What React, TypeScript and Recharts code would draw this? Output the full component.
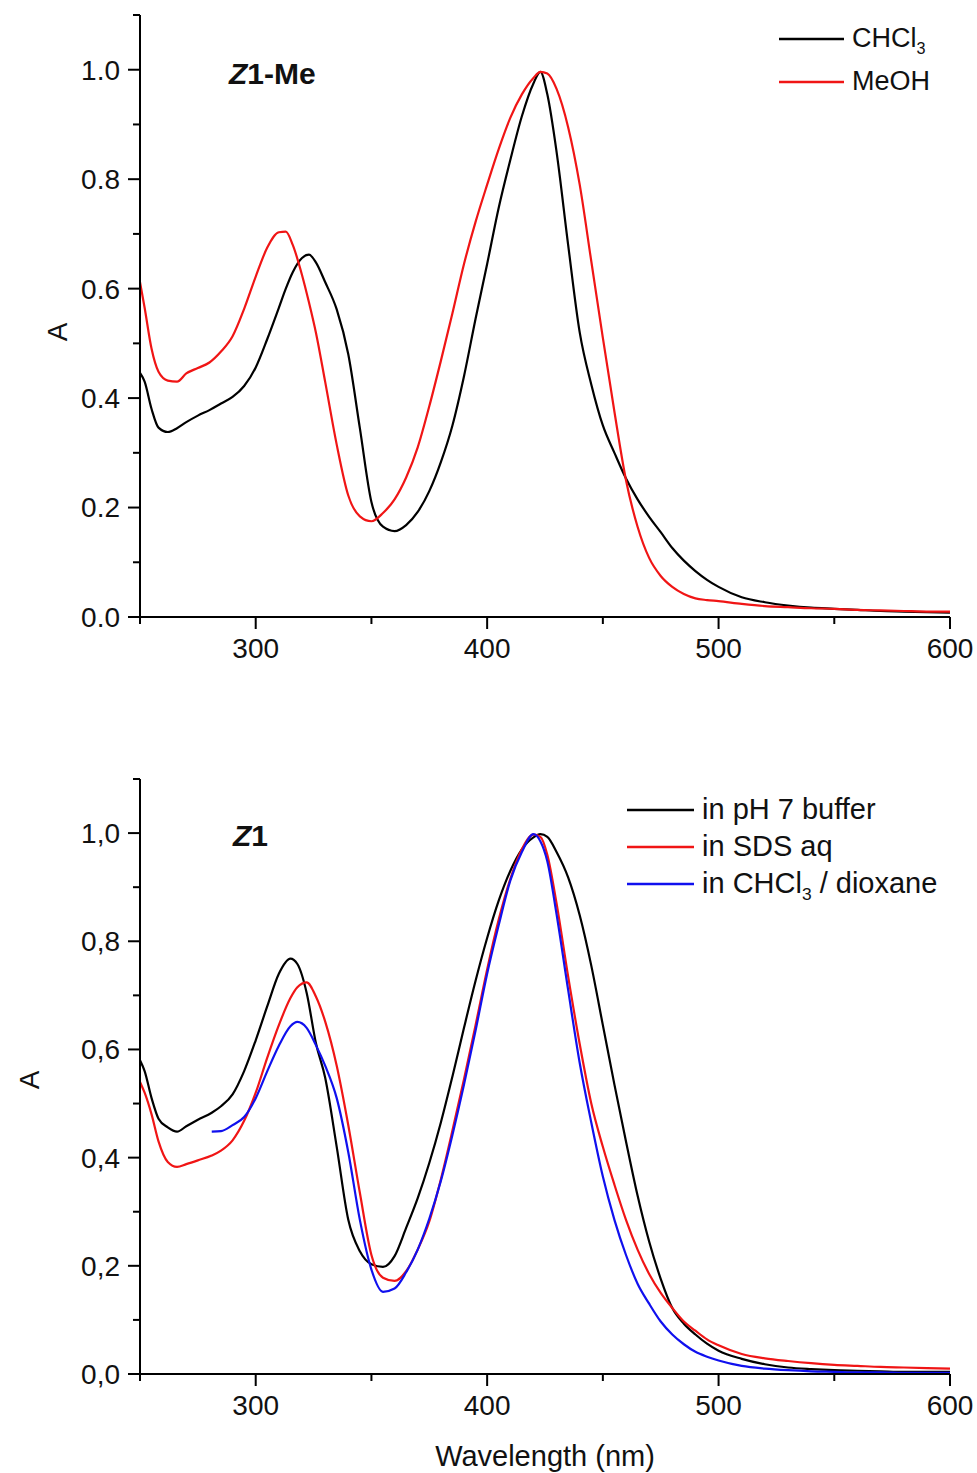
import React from 'react';
import { LineChart, Line, XAxis, YAxis, Legend } from 'recharts';

const FONT = '"Liberation Sans", Arial, Helvetica, sans-serif';
const INK = '#111';

// x / y tick positions (minor ticks carry no label)
const xTicks = [250, 300, 350, 400, 450, 500, 550, 600];
const xLabelled = [300, 400, 500, 600];
const yTicks = [0, 0.1, 0.2, 0.3, 0.4, 0.5, 0.6, 0.7, 0.8, 0.9, 1.0, 1.1];
const yLabelled = [0, 0.2, 0.4, 0.6, 0.8, 1.0];

// series names, in legend order
const topNames = ['CHCl3', 'MeOH'];
const bottomNames = ['in pH 7 buffer', 'in SDS aq', 'in CHCl3 / dioxane'];

// Z1-Me spectra (top panel)
const topWavelengths = [
  250, 252, 255, 258, 262, 266, 270, 275, 280, 285,
  290, 295, 300, 305, 310, 313, 316, 320, 323, 326,
  330, 335, 340, 345, 350, 355, 360, 365, 370, 375,
  380, 385, 390, 395, 400, 405, 410, 415, 420, 423,
  426, 430, 435, 440, 445, 450, 455, 460, 465, 470,
  475, 480, 485, 490, 495, 500, 510, 520, 530, 540,
  550, 560, 570, 580, 590, 600,
];
const topChcl3 = [
  0.446, 0.43, 0.38, 0.346, 0.338, 0.345, 0.356, 0.368, 0.378, 0.39,
  0.402, 0.422, 0.456, 0.508, 0.565, 0.6, 0.63, 0.656, 0.662, 0.648,
  0.612, 0.562, 0.48, 0.345, 0.21, 0.165, 0.157, 0.168, 0.192, 0.23,
  0.283, 0.35, 0.44, 0.545, 0.645, 0.748, 0.835, 0.915, 0.975, 0.996,
  0.955, 0.85, 0.68, 0.52, 0.425, 0.35, 0.3, 0.253, 0.215, 0.183,
  0.155, 0.126, 0.103, 0.084, 0.068, 0.055, 0.036, 0.027, 0.021, 0.017,
  0.015, 0.013, 0.011, 0.01, 0.009, 0.008,
];
const topMeoh = [
  0.612, 0.565, 0.49, 0.448, 0.432, 0.43, 0.445, 0.455, 0.465, 0.485,
  0.513, 0.563, 0.622, 0.675, 0.703, 0.704, 0.68, 0.625, 0.575, 0.52,
  0.43, 0.315, 0.222, 0.184, 0.175, 0.19, 0.215, 0.255, 0.31, 0.385,
  0.468, 0.555, 0.645, 0.722, 0.79, 0.855, 0.912, 0.955, 0.985, 0.996,
  0.993, 0.965, 0.895, 0.79, 0.65, 0.51, 0.375, 0.25, 0.165, 0.108,
  0.075, 0.055, 0.042, 0.034, 0.031, 0.029, 0.024, 0.02, 0.018, 0.016,
  0.015, 0.013, 0.012, 0.011, 0.01, 0.01,
];

// Z1 spectra (bottom panel)
const bottomWavelengths = [
  250, 252, 255, 258, 262, 266, 270, 275, 281, 285,
  290, 295, 300, 305, 310, 315, 318, 322, 326, 330,
  335, 340, 345, 350, 355, 360, 365, 370, 375, 380,
  385, 390, 395, 400, 405, 410, 415, 420, 423, 426,
  430, 435, 440, 445, 450, 455, 460, 465, 470, 475,
  480, 485, 490, 495, 500, 510, 520, 530, 540, 550,
  560, 570, 580, 590, 600,
];
const bottomBuffer = [
  0.58, 0.56, 0.51, 0.472, 0.456, 0.448, 0.458, 0.47, 0.483, 0.495,
  0.517, 0.56, 0.617, 0.68, 0.74, 0.768, 0.758, 0.705, 0.612, 0.548,
  0.42, 0.285, 0.227, 0.203, 0.198, 0.218, 0.27, 0.325, 0.39, 0.465,
  0.55, 0.64, 0.727, 0.806, 0.875, 0.93, 0.97, 0.992, 0.998, 0.993,
  0.965, 0.918, 0.848, 0.755, 0.645, 0.535, 0.43, 0.33, 0.245, 0.176,
  0.122, 0.093, 0.073, 0.056, 0.043, 0.028, 0.018, 0.012, 0.009, 0.007,
  0.006, 0.005, 0.004, 0.004, 0.004,
];
const bottomSds = [
  0.54, 0.52, 0.48, 0.43, 0.392, 0.383, 0.388, 0.395, 0.404, 0.413,
  0.432, 0.468, 0.52, 0.585, 0.645, 0.695, 0.715, 0.724, 0.698, 0.652,
  0.57, 0.46, 0.335, 0.22, 0.178, 0.172, 0.19, 0.23, 0.282, 0.36,
  0.45, 0.545, 0.645, 0.748, 0.84, 0.915, 0.97, 0.997, 0.993, 0.96,
  0.87, 0.735, 0.61, 0.5, 0.42, 0.35, 0.285, 0.23, 0.185, 0.15,
  0.122, 0.097, 0.08, 0.064, 0.053, 0.037, 0.029, 0.024, 0.02, 0.017,
  0.015, 0.013, 0.012, 0.011, 0.01,
];
const bottomDioxane = [
  null, null, null, null, null, null, null, null, 0.448, 0.449,
  0.46, 0.475, 0.51, 0.56, 0.607, 0.643, 0.651, 0.64, 0.608, 0.57,
  0.51, 0.41, 0.285, 0.193, 0.152, 0.158, 0.188, 0.23, 0.287, 0.357,
  0.442, 0.535, 0.635, 0.74, 0.83, 0.912, 0.965, 0.998, 0.985, 0.948,
  0.85, 0.71, 0.575, 0.465, 0.365, 0.285, 0.22, 0.167, 0.13, 0.097,
  0.073, 0.055, 0.041, 0.032, 0.025, 0.015, 0.01, 0.007, 0.005, 0.004,
  0.003, 0.003, 0.002, 0.002, 0.002,
];

const topData = topWavelengths.map((wl, i) => ({ wl, chcl3: topChcl3[i], meoh: topMeoh[i] }));
const bottomData = bottomWavelengths.map((wl, i) => ({
  wl,
  buffer: bottomBuffer[i],
  sds: bottomSds[i],
  dioxane: bottomDioxane[i],
}));

const TICK_SIZE = 12;
const MINOR_SIZE = 7;
const TICK_MARGIN = 8;
const TICK_FONT = 28;

const XTick = (props: any) => {
  const { x, y, payload } = props;
  const v = payload.value;
  const major = xLabelled.includes(v);
  const y0 = y - TICK_MARGIN - TICK_SIZE;
  return (
    <g>
      <line x1={x} x2={x} y1={y0} y2={y0 + (major ? TICK_SIZE : MINOR_SIZE)} stroke="#000" strokeWidth={2} />
      {major && (
        <text x={x} y={y + 1} dy="0.71em" textAnchor="middle" fontSize={TICK_FONT} fontFamily={FONT} fill={INK}>
          {v}
        </text>
      )}
    </g>
  );
};

const makeYTick = (sep: string) => (props: any) => {
  const { x, y, payload } = props;
  const v = payload.value;
  const major = yLabelled.some((t) => Math.abs(t - v) < 1e-6);
  const x1 = x + TICK_MARGIN + TICK_SIZE;
  return (
    <g>
      <line x1={x1 - (major ? TICK_SIZE : MINOR_SIZE)} x2={x1} y1={y} y2={y} stroke="#000" strokeWidth={2} />
      {major && (
        <text x={x} y={y} dy="0.355em" textAnchor="end" fontSize={TICK_FONT} fontFamily={FONT} fill={INK}>
          {v.toFixed(1).replace('.', sep)}
        </text>
      )}
    </g>
  );
};

// CHCl3 -> CHCl with subscript 3
const chem = (s: string) => {
  const parts = s.split('CHCl3');
  if (parts.length === 1) return s;
  return (
    <>
      {parts[0]}CHCl
      <span style={{ fontSize: '0.6em', position: 'relative', top: '0.42em' }}>3</span>
      {parts[1]}
    </>
  );
};

const legendContent = (order: string[], fontSize: number, rowHeight: number, lineLen: number) => (props: any) => {
  const items = [...(props.payload || [])].sort((a: any, b: any) => order.indexOf(a.value) - order.indexOf(b.value));
  return (
    <div style={{ fontFamily: FONT, fontSize, color: INK }}>
      {items.map((entry: any) => (
        <div key={entry.value} style={{ display: 'flex', alignItems: 'center', height: rowHeight }}>
          <svg width={lineLen} height={4} style={{ display: 'block' }}>
            <line x1={0} x2={lineLen} y1={2} y2={2} stroke={entry.color} strokeWidth={2.4} />
          </svg>
          <span style={{ marginLeft: 8, whiteSpace: 'nowrap', lineHeight: 1 }}>{chem(entry.value)}</span>
        </div>
      ))}
    </div>
  );
};

const axisLine = { stroke: '#000', strokeWidth: 2 };

const overlayText: React.CSSProperties = { position: 'absolute', fontFamily: FONT, color: INK, lineHeight: 1 };

const YLabel = ({ cx, cy }: { cx: number; cy: number }) => (
  <div
    style={{
      ...overlayText,
      left: cx - 20,
      top: cy - 20,
      width: 40,
      height: 40,
      lineHeight: '40px',
      textAlign: 'center',
      fontSize: TICK_FONT,
      transform: 'rotate(-90deg)',
    }}
  >
    A
  </div>
);

const lineProps = { type: 'monotone' as const, strokeWidth: 2.2, dot: false, activeDot: false, isAnimationActive: false };

export default function App() {
  return (
    <div style={{ position: 'absolute', left: 0, top: 0, width: 977, height: 1473, background: '#fff' }}>
      <div style={{ position: 'absolute', left: 0, top: 0 }}>
        <LineChart width={977} height={700} data={topData} margin={{ top: 15, right: 27, left: 0, bottom: 23 }}>
          <XAxis
            dataKey="wl"
            type="number"
            domain={[250, 600]}
            ticks={xTicks}
            interval={0}
            height={60}
            tickSize={TICK_SIZE}
            tickMargin={TICK_MARGIN}
            tickLine={false}
            axisLine={axisLine}
            tick={XTick}
          />
          <YAxis
            type="number"
            domain={[0, 1.1]}
            ticks={yTicks}
            interval={0}
            width={140}
            tickSize={TICK_SIZE}
            tickMargin={TICK_MARGIN}
            tickLine={false}
            axisLine={axisLine}
            tick={makeYTick('.')}
          />
          <Legend
            layout="horizontal"
            verticalAlign="middle"
            align="center"
            content={legendContent(topNames, 27, 43, 65)}
            wrapperStyle={{ top: 17, left: 779, width: 198 }}
          />
          <Line {...lineProps} name={topNames[0]} dataKey="chcl3" stroke="#000000" />
          <Line {...lineProps} name={topNames[1]} dataKey="meoh" stroke="#f01515" />
        </LineChart>
      </div>

      <div style={{ position: 'absolute', left: 0, top: 700 }}>
        <LineChart width={977} height={773} data={bottomData} margin={{ top: 79, right: 27, left: 0, bottom: 4 }}>
          <XAxis
            dataKey="wl"
            type="number"
            domain={[250, 600]}
            ticks={xTicks}
            interval={0}
            height={95}
            tickSize={TICK_SIZE}
            tickMargin={TICK_MARGIN}
            tickLine={false}
            axisLine={axisLine}
            tick={XTick}
            label={{ value: 'Wavelength (nm)', position: 'insideBottom', offset: 3, fontSize: 29, fontFamily: FONT, fill: INK }}
          />
          <YAxis
            type="number"
            domain={[0, 1.1]}
            ticks={yTicks}
            interval={0}
            width={140}
            tickSize={TICK_SIZE}
            tickMargin={TICK_MARGIN}
            tickLine={false}
            axisLine={axisLine}
            tick={makeYTick(',')}
          />
          <Legend
            layout="horizontal"
            verticalAlign="middle"
            align="center"
            content={legendContent(bottomNames, 29, 37, 67)}
            wrapperStyle={{ top: 91, left: 627, width: 350 }}
          />
          <Line {...lineProps} name={bottomNames[0]} dataKey="buffer" stroke="#000000" />
          <Line {...lineProps} name={bottomNames[1]} dataKey="sds" stroke="#f01515" />
          <Line {...lineProps} name={bottomNames[2]} dataKey="dioxane" stroke="#1010ee" />
        </LineChart>
      </div>

      <YLabel cx={58} cy={332} />
      <YLabel cx={30} cy={1080} />
      <div style={{ ...overlayText, left: 229, top: 59, fontSize: 30, fontWeight: 'bold' }}>
        <i>Z</i>1-Me
      </div>
      <div style={{ ...overlayText, left: 233, top: 821, fontSize: 30, fontWeight: 'bold' }}>
        <i>Z</i>1
      </div>
    </div>
  );
}
